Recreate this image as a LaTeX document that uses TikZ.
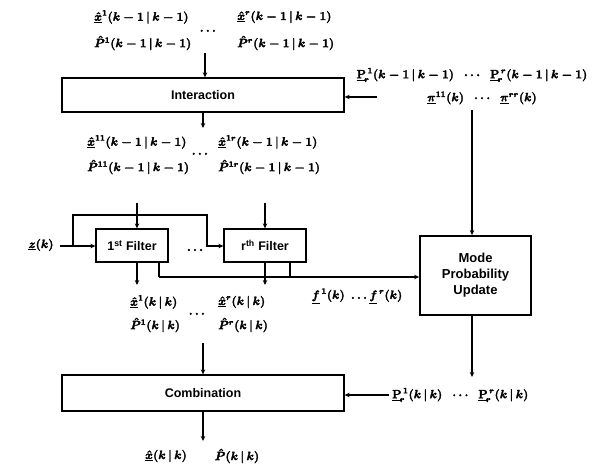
\documentclass[tikz,border=0pt]{standalone}
\usepackage{fontspec}
\usepackage{amsmath,amssymb}
\newfontfamily\boxfont{Liberation Sans}
\usetikzlibrary{arrows.meta,calc}
\newcommand\xhat{\underline{\hat{x}}}
\newcommand\Phat{\hat{P}}
\newcommand\PRmat{\underline{\mathbf{P}}_{\!r}}
\newcommand\pibar{\underline{\pi}}
\newcommand\fbar{\underline{f}}
\newcommand\zbar{\underline{z}}
\newcommand\mb[1]{\special{pdf:literal direct 2 Tr 0.3 w}{\mathversion{bold}$#1$}\special{pdf:literal direct 0 Tr}}
\begin{document}
\begin{tikzpicture}[x=1pt,y=-1pt,
  font=\fontsize{11.5}{13}\selectfont,
  lab/.style={inner sep=0pt,anchor=west},
  clab/.style={inner sep=0pt},
  blk/.style={draw,line width=1.3pt,font=\fontsize{12.5}{14}\selectfont\boxfont\bfseries,inner sep=0pt},
  conn/.style={line width=1.1pt,-{Stealth[length=5pt,width=4.5pt]}},
  line/.style={line width=1.1pt}]
\useasboundingbox (0,0) rectangle (610,463);
% top labels
\node[lab] (x1a) at (94,17) {\mb{\xhat^{1}(k-1\,|\,k-1)}};
\node[lab] (P1a) at (94,43) {\mb{\Phat^{1}(k-1\,|\,k-1)}};
\node[clab] (d1) at (209,31) {\mb{\cdots}};
\node[lab] (xra) at (237,17) {\mb{\xhat^{r}(k-1\,|\,k-1)}};
\node[lab] (Pra) at (237,43) {\mb{\Phat^{r}(k-1\,|\,k-1)}};
% interaction
\node[blk,minimum width=282pt,minimum height=34pt] (inter) at (203,95) {Interaction};
\coordinate (t1) at (205,53);
\draw[conn] (t1) -- (t1 |- inter.north);
\node[clab] (prA) at (472,75) {\mb{\PRmat^{\,1}(k-1\,|\,k-1)\;\;\cdots\;\;\PRmat^{\,r}(k-1\,|\,k-1)}};
\node[clab] (piA) at (482,98) {\mb{\pibar^{11}(k)\;\;\cdots\;\;\pibar^{rr}(k)}};
\coordinate (pin) at (377,97);
\draw[conn] (pin) -- (pin -| inter.east);
% mixed labels
\coordinate (t2) at (203,128);
\draw[conn] (inter.south -| t2) -- (t2);
\node[lab] (x11) at (87,142) {\mb{\xhat^{11}(k-1\,|\,k-1)}};
\node[lab] (P11) at (87,167) {\mb{\Phat^{11}(k-1\,|\,k-1)}};
\node[clab] (d2) at (201,154) {\mb{\cdots}};
\node[lab] (x1r) at (218,142) {\mb{\xhat^{1r}(k-1\,|\,k-1)}};
\node[lab] (P1r) at (218,167) {\mb{\Phat^{1r}(k-1\,|\,k-1)}};
% filters
\node[blk,minimum width=72pt,minimum height=33pt] (f1) at (132,245.5) {1\textsuperscript{st} Filter};
\node[blk,minimum width=82pt,minimum height=33pt] (fr) at (265,245.5) {r\textsuperscript{th} Filter};
\coordinate (a1) at (137,203);
\coordinate (ar) at (265,203);
\draw[conn] (a1) -- (a1 |- f1.north);
\draw[conn] (ar) -- (ar |- fr.north);
\node[clab] (z) at (41,245) {\mb{\zbar(k)}};
\coordinate (zs) at (60,246);
\coordinate (br) at (73,246);
\coordinate (bt) at (207,215);
\draw[conn] (zs) -- (zs -| f1.west);
\draw[conn] (br) |- (bt) |- (fr.west |- br);
\node[clab] (d3) at (195,250) {\mb{\ldots}};
% mode probability
\node[blk,line width=1.8pt,minimum width=111pt,minimum height=79pt,align=center,font=\fontsize{13}{15}\selectfont\boxfont\bfseries] (mode) at (475.5,275.5) {Mode\\[1pt]Probability\\[1pt]Update};
\coordinate (mt) at (472,110);
\draw[conn] (mt) -- (mt |- mode.north);
% filter outputs
\coordinate (o1) at (137,285);
\coordinate (or) at (265,285);
\draw[conn] (o1 |- f1.south) -- (o1);
\draw[conn] (or |- fr.south) -- (or);
\coordinate (l1) at (159,277);
\coordinate (lr) at (290,277);
\draw[line] (l1 |- f1.south) -- (l1);
\draw[line] (lr |- fr.south) -- (lr);
\draw[conn] (l1) -- (l1 -| mode.west);
\node[clab] (fl) at (357,296) {\mb{\fbar^{\,1}(k)\;\ldots\fbar^{\,r}(k)}};
\node[lab] (x1k) at (130,302) {\mb{\xhat^{1}(k\,|\,k)}};
\node[lab] (P1k) at (130,325) {\mb{\Phat^{1}(k\,|\,k)}};
\node[clab] (d4) at (198,314) {\mb{\cdots}};
\node[lab] (xrk) at (218,302) {\mb{\xhat^{r}(k\,|\,k)}};
\node[lab] (Prk) at (218,325) {\mb{\Phat^{r}(k\,|\,k)}};
% combination
\node[blk,minimum width=282pt,minimum height=36pt] (comb) at (203,393) {Combination};
\coordinate (c1) at (203,343);
\draw[conn] (c1) -- (c1 |- comb.north);
\coordinate (c2) at (203,441);
\draw[conn] (comb.south -| c2) -- (c2);
\node[clab] (xk) at (166,456) {\mb{\underline{\hat{x}}(k\,|\,k)}};
\node[clab] (Pk) at (237,456) {\mb{\hat{P}(k\,|\,k)}};
\coordinate (mb) at (472,377);
\draw[conn] (mb |- mode.south) -- (mb);
\node[lab] (prB) at (392,395) {\mb{\PRmat^{\,1}(k\,|\,k)\;\;\cdots\;\;\PRmat^{\,r}(k\,|\,k)}};
\coordinate (cin) at (389,395);
\draw[conn] (cin) -- (cin -| comb.east);
\end{tikzpicture}
\end{document}
